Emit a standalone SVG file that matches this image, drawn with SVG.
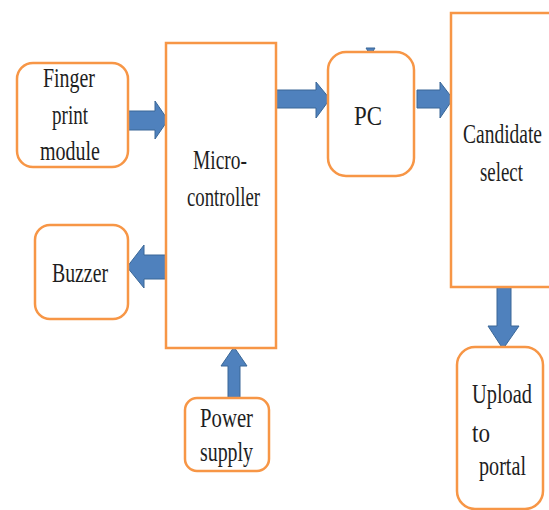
<svg xmlns="http://www.w3.org/2000/svg" width="549" height="510" viewBox="0 0 549 510">
  <style>
    .box { fill: #ffffff; stroke: #F79646; stroke-width: 2.5; }
    .arrow { fill: #4F81BD; stroke: #3A6797; stroke-width: 1; }
    .lbl { font-family: "Liberation Serif", "Times New Roman", serif; font-size: 27px; fill: #1e1e1e; }
  </style>
  <rect width="549" height="510" fill="#ffffff"/>

  <!-- connectors: block arrows between modules -->
  <g id="connectors">
    <polygon class="arrow" points="118,111 155,111 155,101 168,120 155,139 155,130 118,130"/>
    <polygon class="arrow" points="166,255 144,255 144,245 127,267 144,288 144,279 166,279"/>
    <polygon class="arrow" points="228,400 228,366 221,366 234,347 247,366 240,366 240,400"/>
    <polygon class="arrow" points="276,90 316,90 316,82 330,99 316,118 316,108 276,108"/>
    <polygon class="arrow" points="417,90 440,90 440,82 453,99 440,118 440,108 417,108"/>
    <polygon class="arrow" points="497,287 511,287 511,326 519,326 503,349 488,326 497,326"/>
    <polygon class="arrow" points="366,48 375,48 370.5,55"/>
  </g>

  <g id="fingerprint">
    <rect class="box" x="17" y="63" width="111" height="104" rx="16"/>
    <text class="lbl" x="43" y="87" textLength="52" lengthAdjust="spacingAndGlyphs">Finger</text>
    <text class="lbl" x="52" y="124" textLength="36" lengthAdjust="spacingAndGlyphs">print</text>
    <text class="lbl" x="40" y="160" textLength="60" lengthAdjust="spacingAndGlyphs">module</text>
  </g>

  <g id="buzzer">
    <rect class="box" x="35" y="225" width="93" height="94" rx="15"/>
    <text class="lbl" x="52" y="282" textLength="56" lengthAdjust="spacingAndGlyphs">Buzzer</text>
  </g>

  <g id="microcontroller">
    <rect class="box" x="166" y="43" width="110" height="305"/>
    <text class="lbl" x="193" y="169" textLength="54" lengthAdjust="spacingAndGlyphs">Micro-</text>
    <text class="lbl" x="187" y="206" textLength="73" lengthAdjust="spacingAndGlyphs">controller</text>
  </g>

  <g id="power-supply">
    <rect class="box" x="185" y="398" width="84" height="73" rx="12"/>
    <text class="lbl" x="200" y="427" textLength="53" lengthAdjust="spacingAndGlyphs">Power</text>
    <text class="lbl" x="200" y="461" textLength="53" lengthAdjust="spacingAndGlyphs">supply</text>
  </g>

  <g id="pc">
    <rect class="box" x="328" y="52" width="86" height="124" rx="18"/>
    <text class="lbl" x="354" y="125" textLength="28" lengthAdjust="spacingAndGlyphs">PC</text>
  </g>

  <g id="candidate-select">
    <rect class="box" x="451" y="13" width="104" height="274"/>
    <text class="lbl" x="463" y="143" textLength="79" lengthAdjust="spacingAndGlyphs">Candidate</text>
    <text class="lbl" x="480" y="181" textLength="43" lengthAdjust="spacingAndGlyphs">select</text>
  </g>

  <g id="upload-portal">
    <rect class="box" x="457" y="347" width="86" height="162" rx="18"/>
    <text class="lbl" x="472" y="403" textLength="60" lengthAdjust="spacingAndGlyphs">Upload</text>
    <text class="lbl" x="472" y="442" textLength="18" lengthAdjust="spacingAndGlyphs">to</text>
    <text class="lbl" x="479" y="475" textLength="47" lengthAdjust="spacingAndGlyphs">portal</text>
  </g>
</svg>
